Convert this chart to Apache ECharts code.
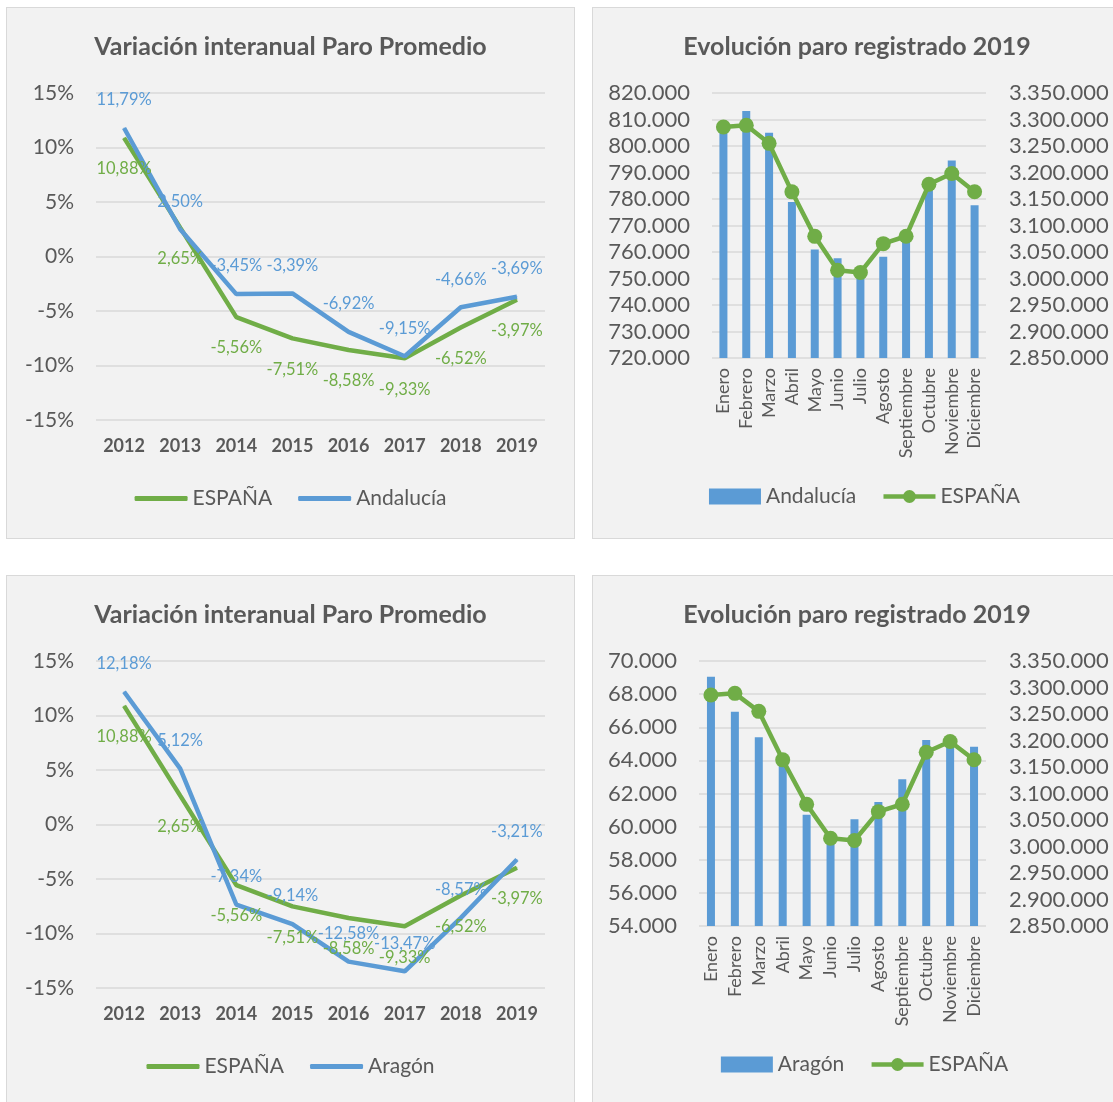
<!DOCTYPE html>
<html>
<head>
<meta charset="utf-8">
<script src="https://cdn.jsdelivr.net/npm/echarts@6/dist/echarts.min.js"></script>
<style>
  html, body { margin: 0; padding: 0; background: #fff; width: 1113px; height: 1102px; overflow: hidden; position: relative; }
  .panel { position: absolute; background: #f2f2f2; border: 1px solid #d9d9d9; box-sizing: border-box; }
</style>
</head>
<body>
<div class="panel" id="varAnd" style="left:6px;top:7px;width:569px;height:532px"></div>
<div class="panel" id="evoAnd" style="left:592px;top:7px;width:545px;height:532px"></div>
<div class="panel" id="varAra" style="left:6px;top:575px;width:569px;height:545px"></div>
<div class="panel" id="evoAra" style="left:592px;top:575px;width:545px;height:545px"></div>
<script>
// datos
var years = ['2012', '2013', '2014', '2015', '2016', '2017', '2018', '2019'];
var espanaVar = [10.88, 2.65, -5.56, -7.51, -8.58, -9.33, -6.52, -3.97];
var andaluciaVar = [11.79, 2.50, -3.45, -3.39, -6.92, -9.15, -4.66, -3.69];
var aragonVar = [12.18, 5.12, -7.34, -9.14, -12.58, -13.47, -8.57, -3.21];

var meses = ['Enero', 'Febrero', 'Marzo', 'Abril', 'Mayo', 'Junio', 'Julio', 'Agosto', 'Septiembre', 'Octubre', 'Noviembre', 'Diciembre'];
var espanaParo = [3285800, 3289000, 3255000, 3163500, 3079500, 3015700, 3011400, 3065800, 3079700, 3177700, 3198200, 3163600];
var andaluciaParo = [806000, 813200, 805000, 778900, 760900, 757600, 751500, 758200, 763800, 783500, 794500, 777600];
var aragonParo = [69050, 66940, 65390, 63700, 60720, 59100, 60440, 61490, 62860, 65230, 65000, 64830];

var FONT = 'Lato';
var GRIS = '#595959';
var VERDE = '#70AD47';
var AZUL = '#5B9BD5';

function pct(v) {
  return v.toFixed(2).replace('.', ',') + '%';
}
function miles(v) {
  return String(v).replace(/\B(?=(\d{3})+(?!\d))/g, '.');
}

// grafico de variacion interanual (lineas)
function variacion(id, region, datos) {
  var chart = echarts.init(document.getElementById(id));
  chart.setOption({
    textStyle: { fontFamily: FONT },
    title: {
      text: 'Variación interanual Paro Promedio',
      left: 'center', top: 21,
      textStyle: { color: GRIS, fontSize: 25, fontWeight: 'bold', fontFamily: FONT }
    },
    legend: {
      top: 475, left: 'center',
      itemWidth: 53, itemHeight: 5, itemGap: 26,
      icon: 'roundRect',
      textStyle: { color: GRIS, fontSize: 21, fontFamily: FONT },
      data: ['ESPAÑA', region]
    },
    grid: { left: 89, right: 29, top: 85, height: 327 },
    xAxis: {
      type: 'category',
      data: years,
      axisLine: { show: false },
      axisTick: { show: false },
      axisLabel: { color: GRIS, fontSize: 18, fontWeight: 'bold', margin: 17, fontFamily: FONT }
    },
    yAxis: {
      type: 'value',
      min: -15, max: 15, interval: 5,
      axisLabel: { color: GRIS, fontSize: 21, margin: 22, fontFamily: FONT, formatter: function (v) { return v + '%'; } },
      splitLine: { lineStyle: { color: '#d9d9d9', width: 1.5 } }
    },
    series: [
      {
        name: 'ESPAÑA', type: 'line', data: espanaVar,
        symbol: 'circle', symbolSize: 1,
        lineStyle: { color: VERDE, width: 4.5 },
        itemStyle: { color: VERDE },
        label: { show: true, position: 'bottom', distance: 22, color: VERDE, fontSize: 16.5, fontFamily: FONT, formatter: function (p) { return pct(p.value); } }
      },
      {
        name: region, type: 'line', data: datos,
        symbol: 'circle', symbolSize: 1,
        lineStyle: { color: AZUL, width: 4.5 },
        itemStyle: { color: AZUL },
        label: { show: true, position: 'top', distance: 19, color: AZUL, fontSize: 16.5, fontFamily: FONT, formatter: function (p) { return pct(p.value); } }
      }
    ]
  });
}

// grafico de evolucion mensual (barras + linea)
function evolucion(id, region, datos, min, max, step, top, left) {
  var chart = echarts.init(document.getElementById(id));
  chart.setOption({
    textStyle: { fontFamily: FONT },
    title: {
      text: 'Evolución paro registrado 2019',
      left: 259, textAlign: 'center', top: 21,
      textStyle: { color: GRIS, fontSize: 25, fontWeight: 'bold', fontFamily: FONT }
    },
    legend: {
      top: 473, left: 'center',
      itemWidth: 52, itemHeight: 16, itemGap: 25,
      textStyle: { color: GRIS, fontSize: 21, fontFamily: FONT },
      data: [
        { name: region, icon: 'rect' },
        { name: 'ESPAÑA', lineStyle: { width: 4.5, color: VERDE } }
      ]
    },
    grid: { left: left, width: 274 + (119 - left), top: top, height: 265 },
    xAxis: {
      type: 'category',
      data: meses,
      axisLine: { show: false },
      axisTick: { show: false },
      axisLabel: { color: GRIS, fontSize: 18, rotate: 90, margin: 10, interval: 0, fontFamily: FONT }
    },
    yAxis: [
      {
        type: 'value', min: min, max: max, interval: step,
        axisLabel: { color: GRIS, fontSize: 22, margin: 22, fontFamily: FONT, formatter: miles },
        splitLine: { lineStyle: { color: '#d9d9d9', width: 1.5 } }
      },
      {
        type: 'value', min: 2850000, max: 3350000, interval: 50000,
        axisLabel: { color: GRIS, fontSize: 22, margin: 23, fontFamily: FONT, formatter: miles },
        splitLine: { show: false }
      }
    ],
    series: [
      {
        name: region, type: 'bar', data: datos,
        barWidth: 8,
        itemStyle: { color: AZUL }
      },
      {
        name: 'ESPAÑA', type: 'line', data: espanaParo, yAxisIndex: 1,
        symbol: 'circle', symbolSize: 15,
        lineStyle: { color: VERDE, width: 4.5 },
        itemStyle: { color: VERDE }
      }
    ]
  });
}

variacion('varAnd', 'Andalucía', andaluciaVar);
evolucion('evoAnd', 'Andalucía', andaluciaParo, 720000, 820000, 10000, 85, 119);
variacion('varAra', 'Aragón', aragonVar);
evolucion('evoAra', 'Aragón', aragonParo, 54000, 70000, 2000, 85, 106);
</script>
</body>
</html>
